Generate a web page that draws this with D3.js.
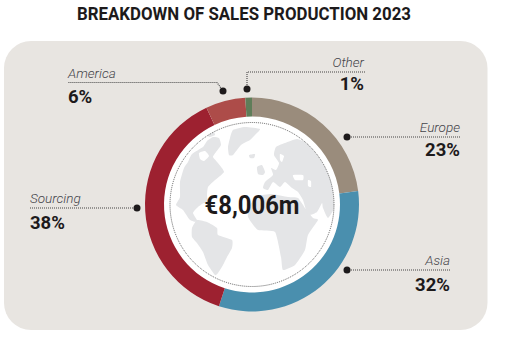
<!DOCTYPE html>
<html>
<head>
<meta charset="utf-8">
<script src="https://cdn.jsdelivr.net/npm/d3@7"></script>
<style>
  html, body { margin: 0; padding: 0; background: #fff; }
  svg { display: block; }
  text { font-family: Roboto, sans-serif; fill: #1d1a1b; }
</style>
</head>
<body>
<svg id="chart" width="506" height="351"></svg>
<script>
const categories = ["Europe", "Asia", "Sourcing", "America", "Other"];
const shares = [23, 32, 38, 6, 1];
const sliceColors = ["#9a8c7c", "#4a8fae", "#9d2130", "#ad4c49", "#5f7d59"];
const totalLabel = "€8,006m";
const chartTitle = "BREAKDOWN OF SALES PRODUCTION 2023";

// background artwork only, traced outlines of the map in page pixels
const landShapes = [
  [[188,162],[192,154],[203,147],[207,141],[213,137],[219,138],[221,145],[216,152],[213,157],[218,163],[224,172],[214,181],[208,187],[207,196],[209,206],[204,203],[198,207],[193,213],[198,222],[190,220],[183,210],[176,205],[180,197],[180,182],[184,168]],
  [[233,130],[245,127],[260,129],[255,135],[250,140],[241,145],[233,155],[229,155],[228,147],[230,138]],
  [[192,228],[197,220],[207,222],[217,228],[218,235],[232,240],[232,248],[227,257],[223,265],[218,273],[215,275],[208,265],[203,252],[197,243],[192,237]],
  [[248,217],[250,205],[258,196],[272,194],[288,197],[298,198],[305,208],[313,218],[318,220],[308,235],[305,250],[295,265],[283,270],[281,257],[275,232],[258,230]],
  [[263,188],[265,182],[273,175],[271,168],[276,170],[279,163],[274,155],[276,147],[285,143],[297,139],[307,143],[318,149],[326,160],[333,176],[336,195],[335,207],[328,218],[323,208],[322,203],[317,212],[308,215],[303,200],[298,192],[292,188],[285,182],[280,187],[273,182],[268,190]],
  [[257,167],[262,165],[265,172],[263,175],[258,174]],
  [[249,155],[255,154],[254,158],[250,158]],
  [[207,133],[213,131],[215,135],[209,137]]
];
const waterShapes = [
  [[199,153],[205,151],[209,156],[204,161],[200,159]],
  [[293,175],[303,175],[303,180],[295,180]],
  [[280,154],[284,156],[282,162],[280,160]],
  [[308,180],[311,181],[311,187],[308,186]]
];

const svg = d3.select("#chart");
const cx = 252, cy = 204.5;
const outerR = 107, innerR = 88, dotR = 82;

svg.append("text")
  .attr("x", 244).attr("y", 20)
  .attr("text-anchor", "middle")
  .attr("font-size", 18).attr("font-weight", 700)
  .attr("textLength", 334).attr("lengthAdjust", "spacingAndGlyphs")
  .text(chartTitle);

svg.append("rect")
  .attr("x", 4).attr("y", 41).attr("width", 483.5).attr("height", 289)
  .attr("rx", 27).attr("fill", "#e8e5e1");

svg.append("circle").attr("cx", cx).attr("cy", cy).attr("r", outerR - 2).attr("fill", "#fff");

// world map in the middle
const mapLine = d3.line().curve(d3.curveCardinalClosed.tension(0.5));
svg.append("clipPath").attr("id", "mapClip")
  .append("circle").attr("cx", cx).attr("cy", cy).attr("r", dotR);
const map = svg.append("g").attr("clip-path", "url(#mapClip)");
map.selectAll(".land").data(landShapes).join("path")
  .attr("class", "land").attr("fill", "#e4e5e7").attr("d", mapLine);
map.selectAll(".water").data(waterShapes).join("path")
  .attr("class", "water").attr("fill", "#fff").attr("d", mapLine);

const g = svg.append("g").attr("transform", `translate(${cx},${cy})`);

g.append("circle").attr("r", dotR)
  .attr("fill", "none").attr("stroke", "#3a3a3a")
  .attr("stroke-width", 0.8).attr("stroke-dasharray", "1 1");

// donut, clockwise from twelve o'clock
const pie = d3.pie().value(d => d).sort(null);
const arc = d3.arc().innerRadius(innerR).outerRadius(outerR);
g.selectAll(".slice")
  .data(pie(shares))
  .join("path")
  .attr("class", "slice")
  .attr("fill", (d, i) => sliceColors[i])
  .attr("d", arc);

g.append("text")
  .attr("x", 0).attr("y", 9)
  .attr("text-anchor", "middle")
  .attr("font-size", 25).attr("font-weight", 700)
  .attr("textLength", 95).attr("lengthAdjust", "spacingAndGlyphs")
  .text(totalLabel);

// callouts: dot, dotted leader, name above, value below
const callouts = [
  { i: 0, path: [[347, 137], [461, 137]], x: 460, anchor: "end", y: 137, gap: 19 },
  { i: 1, path: [[347, 270], [451, 270]], x: 450, anchor: "end", y: 270, gap: 21 },
  { i: 2, path: [[137, 208], [30, 208]], x: 30, anchor: "start", y: 208, gap: 21 },
  { i: 3, path: [[223, 91], [217, 82.5], [68, 82.5]], x: 68, anchor: "start", y: 82.5, gap: 20 },
  { i: 4, path: [[247, 89], [247, 72], [365, 72]], x: 364, anchor: "end", y: 72, gap: 18 }
];
const leader = d3.line();
callouts.forEach(c => {
  svg.append("path").attr("d", leader(c.path))
    .attr("fill", "none").attr("stroke", "#444")
    .attr("stroke-width", 1.1).attr("stroke-dasharray", "1 1");
  svg.append("circle").attr("cx", c.path[0][0]).attr("cy", c.path[0][1]).attr("r", 3.5).attr("fill", "#1d1a1b");
  svg.append("text").attr("x", c.x).attr("y", c.y - 5)
    .attr("text-anchor", c.anchor).attr("font-size", 13.5).attr("font-style", "italic")
    .attr("font-weight", 300).style("fill", "#44444a")
    .text(categories[c.i]);
  svg.append("text").attr("x", c.x).attr("y", c.y + c.gap)
    .attr("text-anchor", c.anchor).attr("font-size", 18.5).attr("font-weight", 700)
    .text(shares[c.i] + "%");
});
</script>
</body>
</html>
